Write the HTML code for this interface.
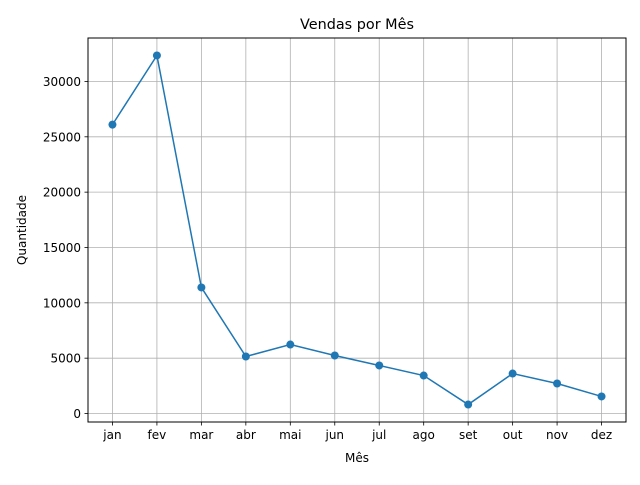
<!DOCTYPE html>
<html><head><meta charset="utf-8"><style>
body{margin:0;background:#fff;font-family:"Liberation Sans","DejaVu Sans",sans-serif}
svg text{font-family:"DejaVu Sans","Liberation Sans",sans-serif}
</style></head><body>
<svg id="chart" width="640" height="480" xmlns="http://www.w3.org/2000/svg">
<rect width="640" height="480" fill="#fff"/>
<g id="grid"></g><g id="ticks"></g><g id="series"></g>
<rect x="88" y="38" width="538" height="384" fill="none" stroke="#000" stroke-width="1"/>
<text x="357" y="29" font-size="14.4" text-anchor="middle">Vendas por Mês</text>
<text x="357" y="462" font-size="12" text-anchor="middle">Mês</text>
<text transform="translate(26,230) rotate(-90)" font-size="12" text-anchor="middle">Quantidade</text>
</svg>
<script>
const categories=["jan","fev","mar","abr","mai","jun","jul","ago","set","out","nov","dez"];
const values=[26100,32350,11390,5150,6230,5240,4340,3430,810,3610,2710,1540];
const yTicks=[0,5000,10000,15000,20000,25000,30000];
const L=88,R=626,T=38,B=422,NS="http://www.w3.org/2000/svg";
const vmin=Math.min(...values),vmax=Math.max(...values),m=(vmax-vmin)*0.05;
const y0=vmin-m,y1=vmax+m;
const xw=(R-L)/(categories.length-1+0.2*1.0);
const x=i=>{const n=categories.length-1,pad=n*0.05;return L+(i+pad)/(n+2*pad)*(R-L);};
const y=v=>B-(v-y0)/(y1-y0)*(B-T);
function mk(t,a,p){const e=document.createElementNS(NS,t);for(const k in a)e.setAttribute(k,a[k]);p.appendChild(e);return e;}
const g=document.getElementById('grid'),tk=document.getElementById('ticks'),s=document.getElementById('series');
categories.forEach((c,i)=>{
 const l=mk('line',{x1:x(i),x2:x(i),y1:T,y2:B,stroke:'#b0b0b0','stroke-width':0.8},g);
 
 
 mk('line',{x1:x(i),x2:x(i),y1:B,y2:B+3.5,stroke:'#000','stroke-width':0.8},tk);
 const t=mk('text',{x:x(i),y:B+17,'font-size':12,'text-anchor':'middle'},tk);t.textContent=c;
 
 
});
yTicks.forEach(v=>{
 const l=mk('line',{x1:L,x2:R,y1:y(v),y2:y(v),stroke:'#b0b0b0','stroke-width':0.8},g);
 
 
 mk('line',{x1:L-3.5,x2:L,y1:y(v),y2:y(v),stroke:'#000','stroke-width':0.8},tk);
 const t=mk('text',{x:L-7,y:y(v)+4.5,'font-size':12,'text-anchor':'end'},tk);t.textContent=v;
 
 
});
const pl=mk('polyline',{points:values.map((v,i)=>x(i)+','+y(v)).join(' '),fill:'none',stroke:'#1f77b4','stroke-width':1.5},s);


values.forEach((v,i)=>{const c=mk('circle',{cx:x(i),cy:y(v),r:4,fill:'#1f77b4'},s);
 
 });
</script>
</body></html>
